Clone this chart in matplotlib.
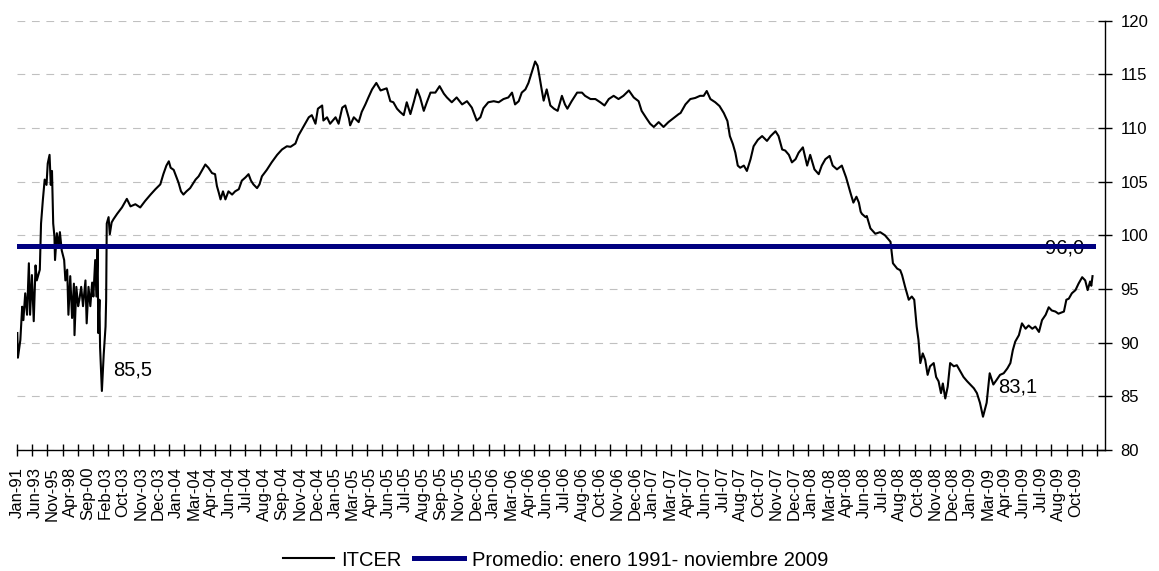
import matplotlib
matplotlib.use("Agg")
import matplotlib.pyplot as plt

plt.rcParams['font.family'] = ['Liberation Sans', 'DejaVu Sans']

# category index (monthly Jan-91..Aug-03, then business days) and ITCER value
idx = [0, 1, 5, 8, 10, 13, 16, 19, 21, 24, 27, 30, 32, 37, 39, 42, 45, 48, 50, 53,
       55, 57, 59, 61, 62, 65, 68, 70, 73, 77, 79, 82, 84, 87, 90, 93, 94, 97, 100, 102,
       105, 108, 112, 114, 117, 120, 123, 125, 128, 130, 132, 133, 135, 136, 139, 142, 145, 146, 147, 150,
       152, 155, 158, 164, 172, 180, 186, 194, 202, 210, 219, 227, 235, 240, 245, 249, 252, 257, 261, 265,
       269, 273, 278, 284, 293, 298, 303, 309, 314, 320, 325, 328, 331, 334, 338, 342, 347, 353, 358, 364,
       369, 375, 380, 384, 388, 394, 398, 402, 410, 418, 427, 435, 443, 449, 457, 462, 468, 473, 479, 484,
       490, 494, 501, 503, 509, 514, 523, 528, 534, 539, 545, 547, 553, 561, 566, 572, 577, 583, 590, 597,
       602, 607, 613, 618, 624, 629, 635, 640, 646, 652, 657, 662, 668, 673, 679, 687, 694, 701, 706, 714,
       722, 731, 739, 747, 755, 761, 766, 774, 783, 791, 799, 807, 813, 818, 824, 829, 835, 840, 846, 851,
       855, 858, 862, 865, 870, 876, 882, 888, 895, 900, 904, 911, 920, 928, 933, 942, 950, 958, 965, 972,
       980, 988, 996, 1005, 1013, 1021, 1026, 1034, 1040, 1046, 1054, 1062, 1070, 1078, 1087, 1090, 1098, 1106, 1114, 1122,
       1128, 1133, 1139, 1147, 1154, 1161, 1167, 1171, 1176, 1180, 1184, 1188, 1194, 1199, 1205, 1210, 1217, 1224, 1232, 1238,
       1246, 1251, 1257, 1262, 1268, 1273, 1279, 1284, 1291, 1298, 1303, 1310, 1317, 1322, 1328, 1335, 1340, 1347, 1355, 1362,
       1369, 1374, 1379, 1383, 1386, 1388, 1394, 1396, 1402, 1410, 1418, 1426, 1435, 1439, 1446, 1451, 1454, 1459, 1465, 1470,
       1474, 1478, 1481, 1484, 1488, 1492, 1496, 1500, 1506, 1510, 1514, 1518, 1521, 1525, 1529, 1533, 1539, 1544, 1550, 1555,
       1561, 1566, 1572, 1577, 1582, 1587, 1593, 1598, 1604, 1609, 1615, 1621, 1627, 1632, 1636, 1640, 1646, 1651, 1657, 1662,
       1668, 1673, 1679, 1684, 1690, 1695, 1700, 1706, 1711, 1720, 1724, 1728, 1733, 1739, 1744, 1750, 1755, 1759, 1763, 1765,
       1767]
itcer = [90.9, 88.6, 90.25, 93.35, 92.1, 94.6, 92.6, 97.4, 92.6, 96.3, 92.0, 97.2, 95.8, 96.8, 101.1, 103.3, 105.2, 104.7, 106.7, 107.5,
         104.7, 106.0, 101.1, 99.9, 97.7, 100.2, 98.95, 100.3, 98.6, 97.7, 95.8, 96.8, 92.6, 96.2, 92.3, 95.5, 90.7, 95.2, 93.4, 94.0,
         95.2, 93.4, 95.8, 91.8, 95.2, 93.4, 95.6, 94.3, 97.7, 94.3, 99.0, 90.9, 94.0, 89.6, 85.5, 88.9, 91.5, 94.0, 101.1, 101.7,
         100.1, 101.2, 101.5, 102.0, 102.6, 103.4, 102.7, 102.9, 102.6, 103.2, 103.8, 104.3, 104.75, 105.7, 106.5, 106.9, 106.3, 106.1, 105.5, 104.9,
         104.1, 103.8, 104.1, 104.4, 105.2, 105.5, 106.0, 106.6, 106.3, 105.8, 105.7, 104.6, 104.0, 103.35, 104.1, 103.35, 104.1, 103.8, 104.1, 104.3,
         105.1, 105.4, 105.7, 105.1, 104.75, 104.4, 104.75, 105.5, 106.1, 106.8, 107.5, 108.0, 108.3, 108.25, 108.55, 109.3, 109.9, 110.4, 111.0, 111.2,
         110.4, 111.8, 112.1, 110.7, 111.0, 110.4, 111.0, 110.4, 111.9, 112.1, 110.9, 110.25, 111.0, 110.55, 111.5, 112.2, 112.85, 113.6, 114.2, 113.5,
         113.6, 113.7, 112.5, 112.4, 111.8, 111.5, 111.2, 112.4, 111.3, 112.5, 113.6, 112.85, 111.6, 112.4, 113.3, 113.3, 113.9, 113.2, 112.85, 112.4,
         112.85, 112.2, 112.5, 111.9, 110.7, 111.0, 111.85, 112.4, 112.5, 112.4, 112.7, 112.85, 113.3, 112.2, 112.5, 113.3, 113.6, 114.2, 115.3, 116.2,
         115.8, 114.85, 113.5, 112.55, 113.6, 112.1, 111.8, 111.6, 113.0, 112.2, 111.8, 112.5, 113.3, 113.3, 113.0, 112.7, 112.7, 112.4, 112.1, 112.7,
         113.0, 112.7, 113.0, 113.5, 112.85, 112.5, 111.6, 110.9, 110.4, 110.1, 110.55, 110.1, 110.55, 110.9, 111.3, 111.4, 112.2, 112.7, 112.8, 113.0,
         113.0, 113.45, 112.7, 112.4, 112.05, 111.4, 110.65, 109.25, 108.5, 107.7, 106.5, 106.3, 106.5, 106.0, 107.1, 108.3, 108.9, 109.25, 108.8, 109.25,
         109.7, 109.25, 108.0, 107.9, 107.5, 106.8, 107.1, 107.7, 108.2, 106.5, 107.5, 106.15, 105.7, 106.5, 107.1, 107.4, 106.5, 106.15, 106.5, 105.4,
         104.0, 103.05, 103.6, 103.05, 102.2, 102.0, 101.7, 101.8, 100.65, 100.15, 100.3, 100.0, 99.4, 97.4, 96.9, 96.75, 96.3, 95.2, 94.0, 94.3,
         94.0, 91.5, 90.25, 88.1, 89.0, 88.4, 87.0, 87.8, 88.1, 86.8, 86.4, 85.3, 86.2, 84.8, 85.9, 88.1, 87.8, 87.9, 87.3, 86.8,
         86.4, 86.1, 85.75, 85.3, 84.4, 83.1, 84.4, 87.15, 86.1, 86.5, 87.0, 87.15, 87.6, 88.1, 89.3, 90.1, 90.7, 91.8, 91.3, 91.6,
         91.3, 91.5, 91.0, 92.1, 92.6, 93.3, 93.0, 92.9, 92.7, 92.9, 94.0, 94.1, 94.6, 94.9, 95.5, 96.1, 95.8, 94.9, 95.7, 95.3,
         96.2]

promedio = 99.0
n_cat = 1788
label_step = 29
tick_step = 25

tick_labels = ["Jan-91", "Jun-93", "Nov-95", "Apr-98", "Sep-00", "Feb-03", "Oct-03", "Nov-03", "Dec-03",
               "Jan-04", "Mar-04", "Apr-04", "Jun-04", "Jul-04", "Aug-04", "Sep-04", "Nov-04", "Dec-04",
               "Jan-05", "Mar-05", "Apr-05", "Jun-05", "Jul-05", "Aug-05", "Sep-05", "Nov-05", "Dec-05",
               "Jan-06", "Mar-06", "Apr-06", "Jun-06", "Jul-06", "Aug-06", "Oct-06", "Nov-06", "Dec-06",
               "Jan-07", "Mar-07", "Apr-07", "Jun-07", "Jul-07", "Aug-07", "Oct-07", "Nov-07", "Dec-07",
               "Jan-08", "Mar-08", "Apr-08", "Jun-08", "Jul-08", "Aug-08", "Oct-08", "Nov-08", "Dec-08",
               "Jan-09", "Mar-09", "Apr-09", "Jun-09", "Jul-09", "Aug-09", "Oct-09"]

fig = plt.figure(figsize=(11.59, 5.71), dpi=100)
ax = fig.add_axes([17 / 1159, 1 - 450 / 571, 1088 / 1159, (450 - 20.7) / 571])

ax.plot(idx, itcer, color="black", lw=1.5, label="ITCER", zorder=3)
ax.plot([idx[0], idx[-1]], [promedio, promedio], color="#000080", lw=3.6,
        label="Promedio: enero 1991- noviembre 2009", zorder=5)

# point labels
ax.text(158, 87.45, "85,5", fontsize=14.5, ha="left", va="center", zorder=4)
ax.text(1612, 85.9, "83,1", fontsize=14.5, ha="left", va="center", zorder=4)
ax.text(1689, 98.85, "96,0", fontsize=14.5, ha="left", va="center", zorder=4)

ax.set_xlim(-0.5, n_cat - 0.5)
ax.set_ylim(80, 120)
ax.set_yticks(range(80, 121, 5))
ax.yaxis.tick_right()
ax.yaxis.grid(True, color="#c0c0c0", linestyle=(0, (7, 6)), lw=0.8)
ax.set_axisbelow(True)
ax.tick_params(axis="y", direction="inout", length=10, width=1, pad=6, labelsize=12)

ax.set_xticks(range(0, len(tick_labels) * label_step, label_step))
ax.set_xticklabels(tick_labels, rotation=90)
ax.set_xticks([k * tick_step - 0.5 for k in range(n_cat // tick_step + 1)], minor=True)
ax.tick_params(axis="x", which="major", length=0, pad=12, labelsize=12)
ax.tick_params(axis="x", which="minor", direction="inout", length=9, width=1)

for s in ["left", "top"]:
    ax.spines[s].set_visible(False)
ax.spines["right"].set_linewidth(1)
ax.spines["bottom"].set_linewidth(1)

fig.legend(loc="center", bbox_to_anchor=(556 / 1159, 1 - 560 / 571), ncol=2, frameon=False,
           fontsize=14.5, handlelength=2.5, handletextpad=0.4, columnspacing=0.6)

fig.savefig("out.png", dpi=100)
